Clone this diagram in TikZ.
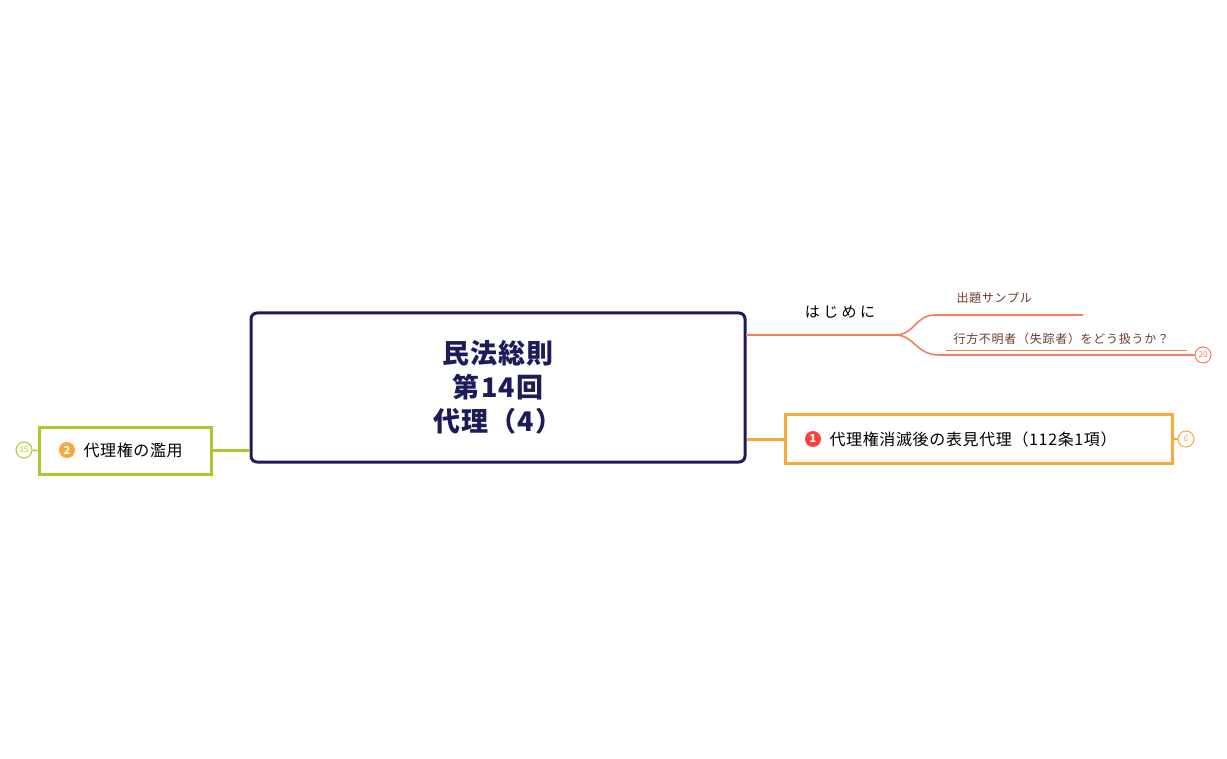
\documentclass[tikz,border=0pt]{standalone}
\usepackage{fontspec}
\setmainfont{Noto Sans CJK JP}
\definecolor{navy}{HTML}{1E1B5A}
\definecolor{org}{HTML}{F47F5A}
\definecolor{yel}{HTML}{F9A93B}
\definecolor{grn}{HTML}{B5C42C}
\definecolor{brn}{HTML}{6B3A2A}
\begin{document}
\begin{tikzpicture}[x=1pt,y=-1pt,
  cnt/.style={circle,draw,line width=1pt,inner sep=0pt,minimum size=16pt,font=\fontsize{8}{8}\selectfont,fill=white},
  num/.style={circle,fill,inner sep=0pt,minimum size=16pt,text=white,font=\bfseries\fontsize{11}{11}\selectfont}]
\useasboundingbox (0,0) rectangle (1227,759);
\node[draw=navy,line width=3pt,rounded corners=6pt,minimum width=494pt,minimum height=149pt,text=navy,align=center,font=\bfseries\addfontfeature{LetterSpace=4}\fontsize{27}{34}\selectfont] (c) at (498,387.5) {民法総則\\第14回\\代理（4）};
% hajimeni
\coordinate (h0) at (746,335);
\coordinate (h1) at (895,335);
\draw[org,line width=2.5pt] (h0) -- (h1);
\node[font=\fontsize{15}{15}\selectfont] (ht) at (840,312) {は じ め に};
\coordinate (a1) at (935,315); \coordinate (a2) at (1083,315);
\coordinate (b1) at (940,355); \coordinate (b2) at (1189,355);
\draw[org,line width=1.6pt] (h1) .. controls (915,335) and (915,315) .. (a1) -- (a2);
\draw[org,line width=1.6pt] (h1) .. controls (915,335) and (915,355) .. (b1) -- (b2);
\draw[org,line width=1.6pt] (946,350.5) -- (1187,350.5);
\node[text=brn,font=\addfontfeature{LetterSpace=6}\fontsize{12}{12}\selectfont,anchor=west] (s1) at (953,298) {出題サンプル};
\node[text=brn,font=\addfontfeature{LetterSpace=6}\fontsize{12}{12}\selectfont,anchor=west] (s2) at (950,339) {行方不明者（失踪者）をどう扱うか？};
\node[cnt,draw=org,text=org] (n20) at (1203,355) {20};
\draw[org,line width=1.6pt] (b2) -- (n20);
% node 1
\node[draw=yel,line width=3pt,minimum width=387pt,minimum height=48pt] (k1) at (978.5,439) {};
\draw[yel,line width=3pt] (c.east|-k1) -- (k1.west);
\node[num,fill=red!75!white] (m1) at (813,439) {1};
\node[anchor=west,font=\addfontfeature{LetterSpace=4}\fontsize{16}{16}\selectfont] (t1) at (826,439) {代理権消滅後の表見代理（112条1項）};
\node[cnt,draw=yel,text=yel] (n6) at (1186,439) {6};
\draw[yel,line width=1.6pt] (k1.east) -- (n6);
% node 2
\node[draw=grn,line width=3pt,minimum width=172pt,minimum height=47pt] (k2) at (125,450.5) {};
\draw[grn,line width=3pt] (k2.east) -- (c.west|-k2);
\node[num,fill=yel] (m2) at (67,450) {2};
\node[anchor=west,font=\addfontfeature{LetterSpace=4}\fontsize{16}{16}\selectfont] (t2) at (80,450) {代理権の濫用};
\node[cnt,draw=grn,text=grn] (n15) at (24,450) {15};
\draw[grn,line width=1.6pt] (n15) -- (k2.west);
\end{tikzpicture}
\end{document}
